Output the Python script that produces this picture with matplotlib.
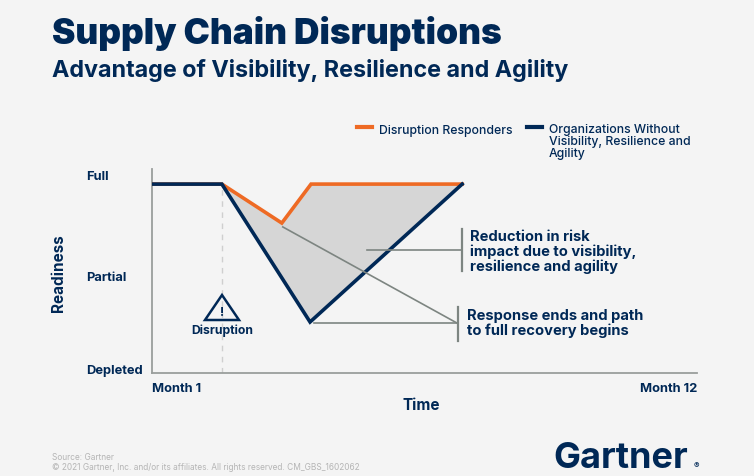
import numpy as np
import matplotlib.pyplot as plt
from matplotlib.patches import Polygon

# Readiness over time (months)
months_resp = [1.0, 2.41, 3.62, 4.21, 7.26]
readiness_resp = [92.6, 92.6, 73.5, 92.6, 92.6]

months_base = [1.0, 2.41, 4.19, 7.26]
readiness_base = [92.6, 92.6, 25.0, 92.6]

disruption_month = 2.41
ytick_pos = [2, 48, 97.5]
ytick_labels = ["Depleted", "Partial", "Full"]

NAVY = "#002856"
ORANGE = "#ee6a24"
BG = "#f4f4f4"
LINEGRAY = "#7d8581"

plt.rcParams["font.family"] = ["Inter", "DejaVu Sans"]

fig = plt.figure(figsize=(7.54, 4.77), dpi=100, facecolor=BG)
W, H = 754, 477


def fx(px):
    return px / W


def fy(py):
    return 1 - py / H


ax = fig.add_axes([fx(152), fy(374), fx(697) - fx(152), (374 - 170) / H])
ax.set_facecolor(BG)
ax.set_xlim(1, 12)
ax.set_ylim(0, 100)

for s in ["top", "right"]:
    ax.spines[s].set_visible(False)
for s in ["left", "bottom"]:
    ax.spines[s].set_color("#9a9e9c")
    ax.spines[s].set_linewidth(1.3)

# shaded gap between the two curves
tt = np.linspace(1, 7.26, 400)
r_up = np.interp(tt, months_resp, readiness_resp)
r_lo = np.interp(tt, months_base, readiness_base)
ax.fill_between(tt, r_lo, r_up, color="#d6d6d6", lw=0, zorder=1)

# disruption marker line
ax.plot([disruption_month, disruption_month], [0, 92.6], color="#cfcfcf",
        lw=1, ls=(0, (4, 4)), zorder=0)

ax.plot(months_resp, readiness_resp, color=ORANGE, lw=2.6, zorder=3,
        solid_joinstyle="miter")
ax.plot(months_base, readiness_base, color=NAVY, lw=2.6, zorder=4,
        solid_joinstyle="miter")

# annotation leader lines
ax.plot([3.64, 7.17], [71.6, 24.3], color=LINEGRAY, lw=1.2, zorder=5)
ax.plot([4.27, 7.17], [24.3, 24.3], color=LINEGRAY, lw=1.2, zorder=5)
ax.plot([7.17, 7.17], [32.4, 15.7], color=LINEGRAY, lw=1.6, zorder=5)
ax.plot([5.33, 7.25], [60.5, 60.5], color=LINEGRAY, lw=1.2, zorder=5)
ax.plot([7.25, 7.25], [70.8, 50.0], color=LINEGRAY, lw=1.6, zorder=5)

ax.set_yticks(ytick_pos)
ax.set_yticklabels(ytick_labels)
ax.set_xticks([])
ax.tick_params(axis="y", length=0, pad=47.5, labelsize=9.3, labelcolor=NAVY)
for lab in ax.get_yticklabels():
    lab.set_fontweight("bold")
    lab.set_horizontalalignment("left")

fig.text(fx(152), fy(389), "Month 1", ha="left", va="center",
         fontsize=9.3, fontweight="bold", color=NAVY)
fig.text(fx(697), fy(389), "Month 12", ha="right", va="center",
         fontsize=9.3, fontweight="bold", color=NAVY)
fig.text(fx(421), fy(405), "Time", ha="center", va="center",
         fontsize=11, fontweight="bold", color=NAVY)
fig.text(fx(58), fy(273), "Readiness", ha="center", va="center",
         rotation=90, fontsize=11, fontweight="bold", color=NAVY)

# warning triangle
tri = Polygon([[fx(205), fy(321)], [fx(239), fy(321)], [fx(222), fy(296)]],
              closed=True, transform=fig.transFigure, fill=False,
              edgecolor=NAVY, lw=1.8, joinstyle="miter")
fig.add_artist(tri)
fig.text(fx(222), fy(313), "!", ha="center", va="center", fontsize=9,
         fontweight="bold", color=NAVY)
fig.text(fx(222), fy(331), "Disruption", ha="center", va="center",
         fontsize=8.8, fontweight="bold", color=NAVY)

# annotations text
fig.text(fx(470), fy(230), "Reduction in risk\nimpact due to visibility,\nresilience and agility",
         ha="left", va="top", fontsize=10.6, fontweight="bold", color=NAVY,
         linespacing=1.05)
fig.text(fx(467), fy(309), "Response ends and path\nto full recovery begins",
         ha="left", va="top", fontsize=10.6, fontweight="bold", color=NAVY,
         linespacing=1.05)

# legend
fig.add_artist(plt.Line2D([fx(357), fx(372)], [fy(128), fy(128)], color=ORANGE,
                          lw=3, transform=fig.transFigure))
fig.text(fx(379), fy(131), "Disruption Responders", ha="left", va="center",
         fontsize=8.8, fontweight="medium", color=NAVY)
fig.add_artist(plt.Line2D([fx(527), fx(542)], [fy(128), fy(128)], color=NAVY,
                          lw=3, transform=fig.transFigure))
fig.text(fx(549), fy(124), "Organizations Without\nVisibility, Resilience and\nAgility",
         ha="left", va="top", fontsize=8.8, fontweight="medium", color=NAVY,
         linespacing=1.0)

# titles
fig.text(fx(52), fy(44), "Supply Chain Disruptions", ha="left", va="baseline",
         fontsize=25.4, fontweight="black", color=NAVY)
fig.text(fx(52), fy(77), "Advantage of Visibility, Resilience and Agility",
         ha="left", va="baseline", fontsize=16.8, fontweight="bold", color=NAVY)

# footer
fig.text(fx(52), fy(458), "Source: Gartner", ha="left", va="center",
         fontsize=6, color="#b5b5b5")
fig.text(fx(52), fy(468),
         "\u00a9 2021 Gartner, Inc. and/or its affiliates. All rights reserved. CM_GBS_1602062",
         ha="left", va="center", fontsize=6, color="#b5b5b5")
fig.text(fx(553), fy(468), "Gartner", ha="left", va="baseline",
         fontsize=26, fontweight="bold", color=NAVY)
fig.text(fx(694), fy(468), "\u00ae", ha="left", va="baseline",
         fontsize=6, color=NAVY)

fig.savefig("out.png", dpi=100, facecolor=BG)
